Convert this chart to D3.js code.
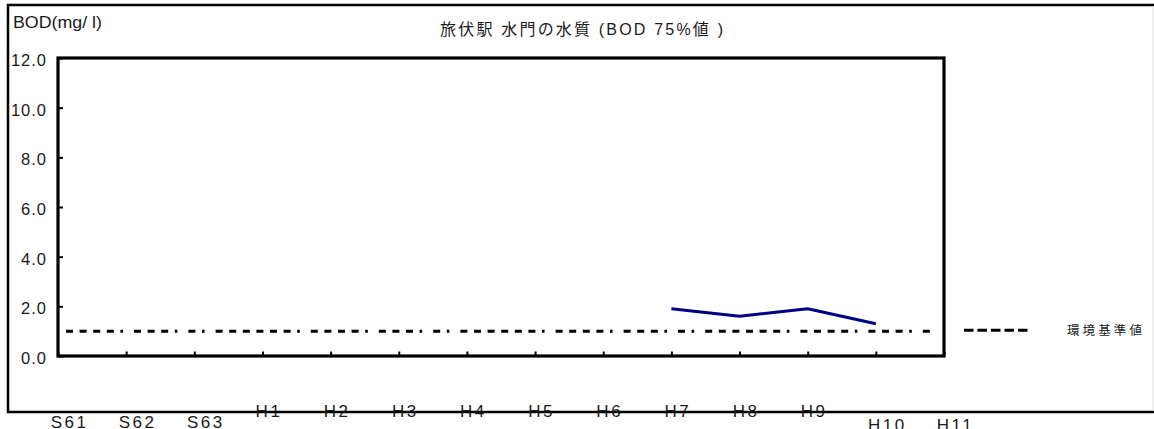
<!DOCTYPE html>
<html>
<head>
<meta charset="utf-8">
<script src="https://cdn.jsdelivr.net/npm/d3@7/dist/d3.min.js"></script>
<style>
  html, body { margin: 0; padding: 0; background: #fff; }
  svg { display: block; }
  text { font-family: "Liberation Sans", "Noto Sans CJK JP", sans-serif; fill: #1a1a1a; }
</style>
</head>
<body>
<svg id="chart" width="1154" height="429"></svg>
<script>
// Fiscal years (Showa 61 – Heisei 11)
const categories = ["S61", "S62", "S63", "H1", "H2", "H3", "H4", "H5", "H6", "H7", "H8", "H9", "H10", "H11"];
// BOD 75% values (mg/l); null where no measurement
const bodValues = [null, null, null, null, null, null, null, null, null, 1.9, 1.6, 1.9, 1.3, null];
// Environmental standard
const standardValue = 1.0;
const yTicks = [0, 2, 4, 6, 8, 10, 12];
const titleText = "旅伏駅 水門の水質 (BOD 75%値 )";
const yAxisTitle = "BOD(mg/ l)";
const legendLabel = "環境基準値";

const svg = d3.select("#chart");
const plot = { left: 58, right: 944, top: 58, bottom: 356 };

const x = d3.scalePoint().domain(categories).range([plot.left, plot.right]).padding(0);
const y = d3.scaleLinear().domain([0, 12]).range([plot.bottom, plot.top]);

// outer frame
svg.append("path")
  .attr("d", `M1156,5 H8 V412 H1156`)
  .attr("fill", "none").attr("stroke", "#000").attr("stroke-width", 2.5);
svg.append("line")
  .attr("x1", 1153).attr("x2", 1153).attr("y1", 6).attr("y2", 411)
  .attr("stroke", "#ddd").attr("stroke-width", 1);

// title
svg.append("text")
  .attr("x", 440).attr("y", 35)
  .attr("textLength", 283).attr("lengthAdjust", "spacing")
  .style("font-size", "16px")
  .text(titleText);

// y axis title
svg.append("text")
  .attr("x", 13).attr("y", 28)
  .attr("textLength", 89).attr("lengthAdjust", "spacingAndGlyphs")
  .style("font-size", "17px")
  .text(yAxisTitle);

// y axis: ticks point inward
const yAxis = svg.append("g")
  .attr("transform", `translate(${plot.left},0)`)
  .call(d3.axisLeft(y).tickValues(yTicks).tickSize(-5).tickPadding(11).tickFormat(d3.format(".1f")));
yAxis.select(".domain").remove();
yAxis.selectAll(".tick line").attr("stroke", "#000").attr("stroke-width", 2);
yAxis.selectAll(".tick text")
  .attr("font-family", null).attr("font-size", null)
  .style("font-size", "16.5px").style("letter-spacing", "1px")
  .attr("dy", "0.45em");

// x axis: ticks point inward, labels sit far below
const lowered = { "S61": 11, "S62": 11, "S63": 11, "H10": 14, "H11": 14 };
const xAxis = svg.append("g")
  .attr("transform", `translate(0,${plot.bottom})`)
  .call(d3.axisBottom(x).tickSize(-4.5).tickPadding(48));
xAxis.select(".domain").remove();
xAxis.selectAll(".tick line").attr("stroke", "#000").attr("stroke-width", 2);
xAxis.selectAll(".tick text")
  .attr("font-family", null).attr("font-size", null)
  .style("font-size", "17px").style("letter-spacing", "2.5px")
  .attr("dy", null)
  .attr("x", d => (lowered[d] !== undefined ? 11 : 6))
  .attr("y", d => 60.5 + (lowered[d] || 0));

// environmental standard line (aliased dash-dot look)
const P = 13.6;
const unitSeq = ["D","D","D","D","d","D","D","D","d","D","d","D","D","D","D","D","D","d"];
const dashArr = [];
unitSeq.forEach(u => { if (u === "D") dashArr.push(7, P - 7); else dashArr.push(2.6, P - 2.6); });
const patLen = unitSeq.length * P;
svg.append("line")
  .attr("x1", x(categories[0])).attr("x2", x(categories[categories.length - 1]) - 8)
  .attr("y1", y(standardValue)).attr("y2", y(standardValue))
  .attr("stroke", "#000").attr("stroke-width", 3)
  .attr("stroke-dasharray", dashArr.join(","))
  .attr("stroke-dashoffset", patLen - 8);

// BOD series
const line = d3.line()
  .defined(d => d.v != null)
  .x(d => x(d.c))
  .y(d => y(d.v));
svg.append("path")
  .datum(categories.map((c, i) => ({ c, v: bodValues[i] })))
  .attr("d", line)
  .attr("fill", "none").attr("stroke", "#000080").attr("stroke-width", 3)
  .attr("stroke-linejoin", "round");

// plot frame
svg.append("rect")
  .attr("x", plot.left).attr("y", plot.top)
  .attr("width", plot.right - plot.left).attr("height", plot.bottom - plot.top)
  .attr("fill", "none").attr("stroke", "#000").attr("stroke-width", 3.2);

// legend
svg.append("line")
  .attr("x1", 964).attr("x2", 1029)
  .attr("y1", y(standardValue) - 1).attr("y2", y(standardValue) - 1)
  .attr("stroke", "#000").attr("stroke-width", 3)
  .attr("stroke-dasharray", "9.5,4");
svg.append("text")
  .attr("x", 1067).attr("y", y(standardValue) + 3.5)
  .attr("textLength", 75).attr("lengthAdjust", "spacing")
  .style("font-size", "12.5px")
  .text(legendLabel);
</script>
</body>
</html>
